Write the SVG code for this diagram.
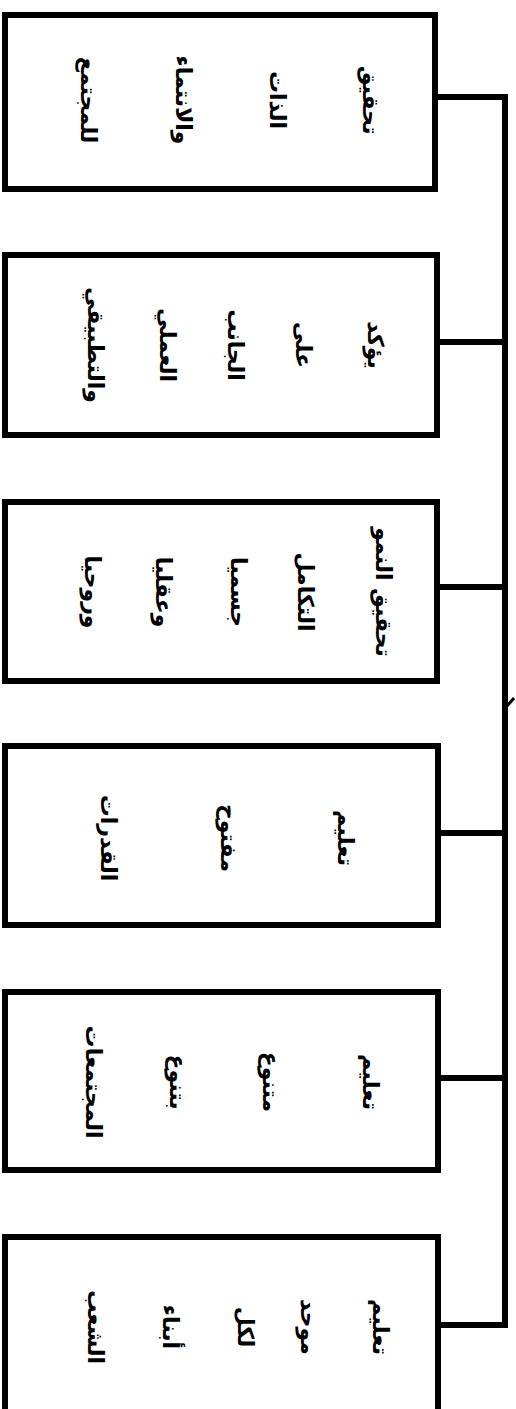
<svg xmlns="http://www.w3.org/2000/svg" width="516" height="1409" viewBox="0 0 516 1409">
<style>
.box{fill:#fff;stroke:#000;stroke-width:6}
.t{font-family:"DejaVu Sans","Noto Sans",sans-serif;font-weight:bold;font-size:22px;fill:#000;text-anchor:middle;dominant-baseline:central}
.c{fill:none;stroke:#000;stroke-width:6;stroke-linejoin:miter}
</style>
<rect width="516" height="1409" fill="#fff"/>
<g id="connectors">
<path class="c" d="M437 97 H505 V1325 H438"/>
<path class="c" d="M437 342 H505 M437 587 H505 M438 833 H505 M438 1078 H505"/>
<path d="M507 706 L514 698" stroke="#000" stroke-width="3"/>
</g>
<g id="n1">
<rect class="box" x="5" y="15" width="430" height="174"/>
<text class="t" direction="rtl" transform="translate(370,100) rotate(90)">تحقيق</text>
<text class="t" direction="rtl" transform="translate(277,100) rotate(90)">الذات</text>
<text class="t" direction="rtl" transform="translate(183,100) rotate(90)">والانتماء</text>
<text class="t" direction="rtl" transform="translate(88,100) rotate(90)">للمجتمع</text>
</g>
<g id="n2">
<rect class="box" x="5" y="255" width="432" height="180"/>
<text class="t" direction="rtl" transform="translate(375,345) rotate(90)">يؤكد</text>
<text class="t" direction="rtl" transform="translate(303,345) rotate(90)">على</text>
<text class="t" direction="rtl" transform="translate(235,345) rotate(90)">الجانب</text>
<text class="t" direction="rtl" transform="translate(167,345) rotate(90)">العملي</text>
<text class="t" direction="rtl" transform="translate(95,345) rotate(90)">والتطبيقي</text>
</g>
<g id="n3">
<rect class="box" x="5" y="502" width="432" height="179"/>
<text class="t" direction="rtl" transform="translate(383,592) rotate(90)">تحقيق النمو</text>
<text class="t" direction="rtl" transform="translate(305,592) rotate(90)">التكامل</text>
<text class="t" direction="rtl" transform="translate(238,592) rotate(90)">جسميا</text>
<text class="t" direction="rtl" transform="translate(163,592) rotate(90)">وعقليا</text>
<text class="t" direction="rtl" transform="translate(92,592) rotate(90)">وروحيا</text>
</g>
<g id="n4">
<rect class="box" x="5" y="746" width="433" height="179"/>
<text class="t" direction="rtl" transform="translate(345,838) rotate(90)">تعليم</text>
<text class="t" direction="rtl" transform="translate(228,838) rotate(90)">مفتوح</text>
<text class="t" direction="rtl" transform="translate(108,838) rotate(90)">القدرات</text>
</g>
<g id="n5">
<rect class="box" x="5" y="992" width="433" height="178"/>
<text class="t" direction="rtl" transform="translate(370,1082) rotate(90)">تعليم</text>
<text class="t" direction="rtl" transform="translate(270,1082) rotate(90)">متنوع</text>
<text class="t" direction="rtl" transform="translate(177,1082) rotate(90)">بتنوع</text>
<text class="t" direction="rtl" transform="translate(93,1082) rotate(90)">المجتمعات</text>
</g>
<g id="n6">
<rect class="box" x="5" y="1237" width="433" height="190"/>
<text class="t" direction="rtl" transform="translate(380,1327) rotate(90)">تعليم</text>
<text class="t" direction="rtl" transform="translate(308,1327) rotate(90)">موحد</text>
<text class="t" direction="rtl" transform="translate(245,1327) rotate(90)">لكل</text>
<text class="t" direction="rtl" transform="translate(170,1327) rotate(90)">أبناء</text>
<text class="t" direction="rtl" transform="translate(95,1327) rotate(90)">الشعب</text>
</g>
</svg>
